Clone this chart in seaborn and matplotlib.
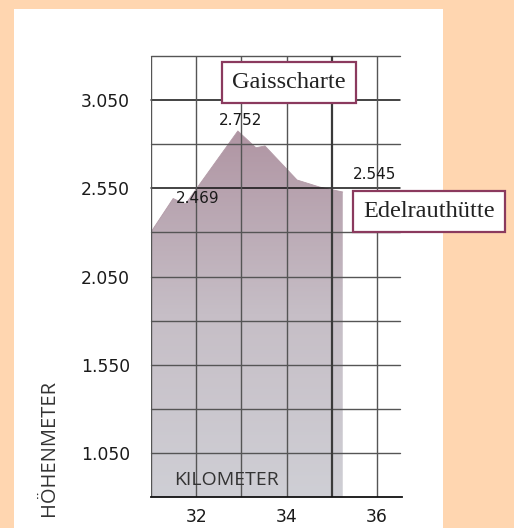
import numpy as np
import pandas as pd
import seaborn as sns
import matplotlib.pyplot as plt
from matplotlib.patches import Rectangle, Polygon
from matplotlib.colors import LinearSegmentedColormap

# profile
km = [31.0, 31.49, 31.76, 32.92, 33.32, 33.52, 34.23, 34.73, 35.24]
hm = [2302, 2492, 2460, 2875, 2780, 2790, 2597, 2557, 2529]

y_ticks = [1050, 1550, 2050, 2550, 3050]
y_labels = ['1.050', '1.550', '2.050', '2.550', '3.050']
x_ticks = [32, 34, 36]
x_labels = ['32', '34', '36']

peak_labels = ['2.752', '2.469', '2.545']
huts = ['Gaisscharte', 'Edelrauthütte']

df = pd.DataFrame({'km': km, 'hm': hm})

sns.set_style('white')
plt.rcParams['font.family'] = ['DejaVu Sans']

peach = '#FFD6B0'
fig = plt.figure(figsize=(5.14, 5.28), dpi=100)
fig.patch.set_facecolor(peach)
fig.patches.append(Rectangle((14 / 514, 0), (443 - 14) / 514, (528 - 9) / 528,
                             transform=fig.transFigure, facecolor='white',
                             edgecolor='none', zorder=-5))

ax = fig.add_axes([151 / 514, 31 / 528, 251 / 514, 441 / 528])
ax.set_facecolor('none')
ymin, ymax = 800, 3300
xmin, xmax = 31, 36.55
ax.set_xlim(xmin, xmax)
ax.set_ylim(ymin, ymax)

# gradient fill under the profile
cmap = LinearSegmentedColormap.from_list('prof', ['#CFCFD5', '#C6BEC6', '#B095A3'])
grad = np.linspace(0, 1, 256).reshape(-1, 1)
img = ax.imshow(grad, cmap=cmap, origin='lower', aspect='auto',
                extent=[xmin, xmax, ymin, max(hm)], zorder=1)
poly_xy = [(km[0], ymin)] + list(zip(km, hm)) + [(km[-1], ymin)]
poly = Polygon(poly_xy, closed=True, facecolor='none', edgecolor='none',
               transform=ax.transData)
ax.add_patch(poly)
img.set_clip_path(poly)
ax.set_xlim(xmin, xmax)
ax.set_ylim(ymin, ymax)
sns.lineplot(data=df, x='km', y='hm', ax=ax, color='#B39AA7', lw=0.6,
             zorder=2, legend=False)

# grid
for yv in np.arange(1050, 3301, 250):
    dark = yv in (2550, 3050)
    ax.plot([xmin, 36.5], [yv, yv], color='#111111' if dark else '#555555',
            lw=1.1 if dark else 1.0, zorder=3, clip_on=False)
for xv in range(31, 37):
    ax.axvline(xv, color='#3a3a3a' if xv == 35 else '#555555',
               lw=1.6 if xv == 35 else 1.0, zorder=3)
for s in ['top', 'right', 'left']:
    ax.spines[s].set_visible(False)
ax.spines['bottom'].set_color('#111111')
ax.spines['bottom'].set_linewidth(1.3)
ax.spines['bottom'].set_zorder(4)

ax.set_yticks(y_ticks)
ax.set_yticklabels(y_labels, fontsize=12.3, color='#1a1a1a')
ax.set_xticks(x_ticks)
ax.set_xticklabels(x_labels, fontsize=12.3, color='#1a1a1a')
ax.tick_params(length=0)
ax.tick_params(axis='y', pad=15)
ax.tick_params(axis='x', pad=8)
ax.set_xlabel('')
ax.set_ylabel('')

# value labels
for txt, (px, py) in zip(peak_labels, [(32.97, 2937), (32.04, 2495), (35.95, 2631)]):
    ax.text(px, py, txt, fontsize=11, color='#1a1a1a', ha='center', va='center',
            zorder=5, clip_on=False)

# hut boxes
for txt, (px, py) in zip(huts, [(34.05, 3150), (37.15, 2418)]):
    ax.text(px, py, txt, family='Liberation Serif', fontsize=17.5, color='#222222',
            ha='center', va='center', zorder=6, clip_on=False,
            bbox=dict(boxstyle='square,pad=0.42', facecolor='white',
                      edgecolor='#8B3A5E', linewidth=1.6))

ax.text(32.66, 898, 'KILOMETER', family='Open Sans', fontsize=14, color='#333333',
        ha='center', va='center', zorder=5)
fig.text(49 / 514, 1 - 448 / 528, 'HÖHENMETER', family='Open Sans', fontsize=14.5,
         color='#333333', rotation=90, ha='center', va='center')

fig.savefig('out.png', dpi=100, facecolor=peach)
